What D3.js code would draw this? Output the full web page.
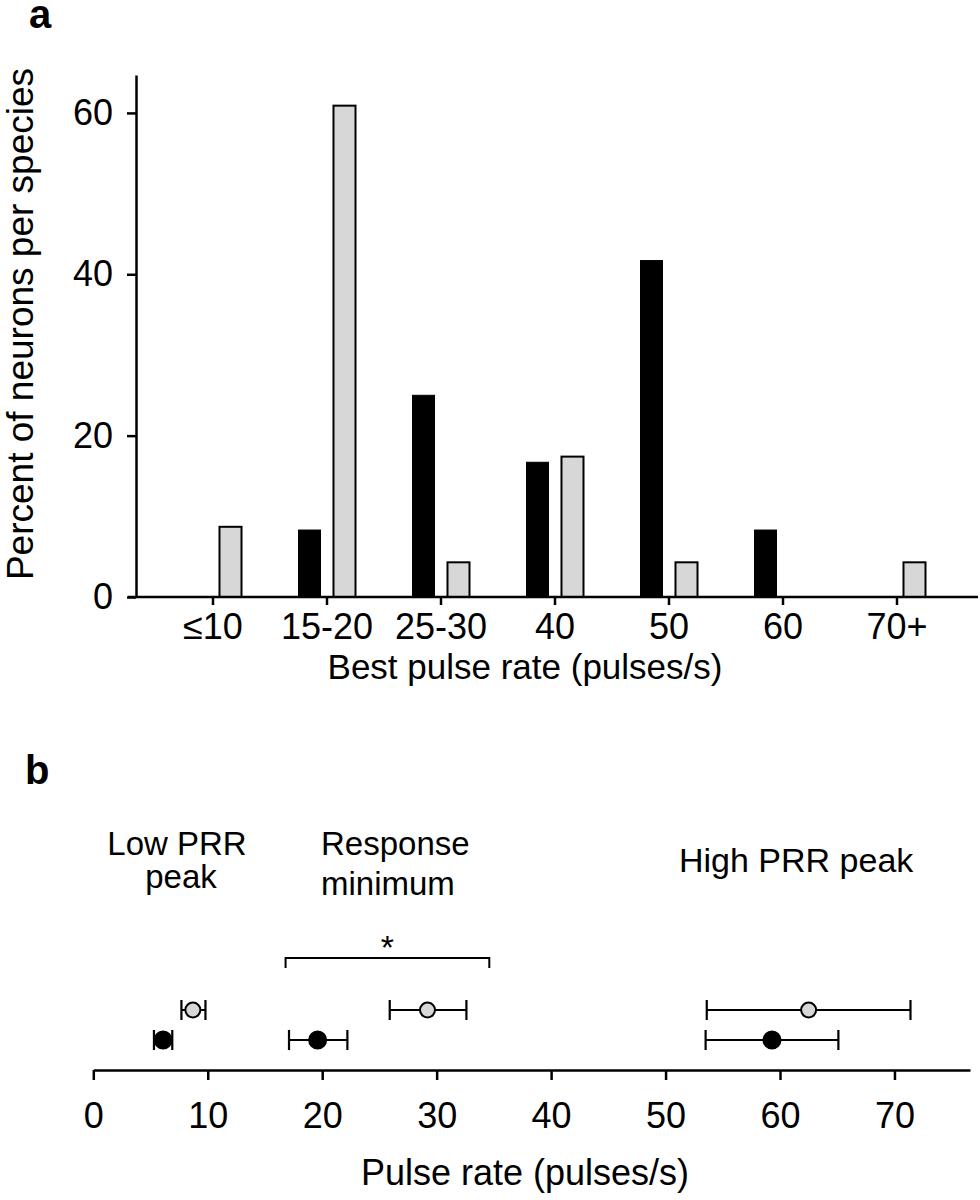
<!DOCTYPE html>
<html>
<head>
<meta charset="utf-8">
<script src="https://cdn.jsdelivr.net/npm/d3@7"></script>
<style>
  html, body { margin: 0; padding: 0; background: #fff; }
  svg { display: block; }
  text { font-family: "Liberation Sans", Arial, sans-serif; fill: #000; }
</style>
</head>
<body>
<svg id="chart" width="980" height="1200"></svg>
<script>
// ---------- Panel a data ----------
const categories = ["≤10", "15-20", "25-30", "40", "50", "60", "70+"];
const blackPct = [0, 8.3, 25.0, 16.7, 41.7, 8.3, 0];
const grayPct = [8.7, 60.9, 4.3, 17.4, 4.3, 0, 4.3];
const yTicksA = [0, 20, 40, 60];
const seriesNames = ["black", "gray"];

// ---------- Panel b data ----------
const groupLabels = ["Low PRR peak", "Response minimum", "High PRR peak"];
const grayMean = [8.7, 29.2, 62.5];
const grayLo = [7.7, 25.9, 53.6];
const grayHi = [9.8, 32.6, 71.4];
const blackMean = [6.1, 19.6, 59.3];
const blackLo = [5.3, 17.1, 53.5];
const blackHi = [6.9, 22.2, 65.1];
const xTicksB = [0, 10, 20, 30, 40, 50, 60, 70];
const sigRange = [16.8, 34.6];

const svg = d3.select("#chart");
const GRAY = "#d6d7d6";

// ================= Panel a =================
const yA = d3.scaleLinear().domain([0, 64.7]).range([597, 75]);
const xA = d3.scaleBand().domain(categories).range([156, 954]).padding(0);
const xSub = d3.scaleBand().domain(seriesNames).range([-28.5, 28.5]).paddingInner(0.371).paddingOuter(0);

svg.append("text").attr("x", 29).attr("y", 28)
  .attr("font-size", 40).attr("font-weight", "bold").text("a");

// y axis
const gyA = svg.append("g").attr("transform", "translate(136,0)")
  .call(d3.axisLeft(yA).tickValues(yTicksA).tickSize(9).tickSizeOuter(0).tickPadding(14));
gyA.select(".domain").attr("stroke-width", 2.5);
gyA.selectAll(".tick line").attr("stroke-width", 2.5);
gyA.selectAll(".tick text").attr("font-size", 36).attr("font-family", "Liberation Sans, Arial, sans-serif");

// x axis
const gxA = svg.append("g").attr("transform", "translate(0,597)")
  .call(d3.axisBottom(xA).tickSize(8).tickPadding(8));
gxA.select(".domain").remove();
gxA.selectAll(".tick line").attr("stroke-width", 2.5);
gxA.selectAll(".tick text").attr("font-size", 36).attr("font-family", "Liberation Sans, Arial, sans-serif");

// bars
const barData = [];
categories.forEach((c, i) => {
  barData.push({ cat: c, s: "black", v: blackPct[i] });
  barData.push({ cat: c, s: "gray", v: grayPct[i] });
});
svg.append("g").selectAll("rect").data(barData.filter(d => d.v > 0)).join("rect")
  .attr("x", d => xA(d.cat) + xA.bandwidth() / 2 + xSub(d.s))
  .attr("width", xSub.bandwidth())
  .attr("y", d => yA(d.v))
  .attr("height", d => yA(0) - yA(d.v))
  .attr("fill", d => d.s === "black" ? "#000" : GRAY)
  .attr("stroke", "#000")
  .attr("stroke-width", d => d.s === "black" ? 1 : 2);

// baseline line (drawn over bars)
svg.append("line").attr("x1", 128).attr("x2", 978).attr("y1", 597).attr("y2", 597)
  .attr("stroke", "#000").attr("stroke-width", 2.5);

// axis titles
svg.append("text").attr("transform", "translate(33,324) rotate(-90)")
  .attr("text-anchor", "middle").attr("font-size", 37).text("Percent of neurons per species");
svg.append("text").attr("x", 525).attr("y", 679)
  .attr("text-anchor", "middle").attr("font-size", 35).text("Best pulse rate (pulses/s)");

// ================= Panel b =================
const xB = d3.scaleLinear().domain([0, 76.6]).range([93.3, 970]);
const rowY = d3.scalePoint().domain(["gray", "black"]).range([1010, 1040]);

svg.append("text").attr("x", 25).attr("y", 784)
  .attr("font-size", 40).attr("font-weight", "bold").text("b");

const gxB = svg.append("g").attr("transform", "translate(0,1070)")
  .call(d3.axisBottom(xB).tickValues(xTicksB).tickSize(10).tickSizeOuter(0).tickPadding(22));
gxB.select(".domain").attr("stroke-width", 2.5);
gxB.selectAll(".tick line").attr("stroke-width", 2.5);
gxB.selectAll(".tick text").attr("font-size", 36).attr("font-family", "Liberation Sans, Arial, sans-serif");

svg.append("text").attr("x", 525).attr("y", 1185)
  .attr("text-anchor", "middle").attr("font-size", 36).text("Pulse rate (pulses/s)");

// group labels
const lbl = svg.append("g").attr("font-size", 33);
lbl.append("text").attr("x", 177).attr("y", 855).attr("text-anchor", "middle").text("Low PRR");
lbl.append("text").attr("x", 181).attr("y", 888).attr("text-anchor", "middle").text("peak");
lbl.append("text").attr("x", 321).attr("y", 855).text("Response");
lbl.append("text").attr("x", 321).attr("y", 895).text("minimum");
lbl.append("text").attr("x", 679).attr("y", 872).attr("font-size", 34).text(groupLabels[2]);

// significance bracket
const sg = svg.append("g").attr("stroke", "#000").attr("stroke-width", 2);
sg.append("path").attr("fill", "none")
  .attr("d", `M${xB(sigRange[0])},968 V958 H${xB(sigRange[1])} V968`);
svg.append("text").attr("x", (xB(sigRange[0]) + xB(sigRange[1])) / 2).attr("y", 959)
  .attr("text-anchor", "middle").attr("font-size", 34).text("*");

// error bars + points
const ptData = [];
groupLabels.forEach((g, i) => {
  ptData.push({ s: "gray", m: grayMean[i], lo: grayLo[i], hi: grayHi[i] });
  ptData.push({ s: "black", m: blackMean[i], lo: blackLo[i], hi: blackHi[i] });
});
const eb = svg.append("g").attr("stroke", "#000").attr("stroke-width", 2.2).attr("fill", "none");
eb.selectAll("path").data(ptData).join("path")
  .attr("d", d => {
    const y = rowY(d.s), a = xB(d.lo), b = xB(d.hi);
    return `M${a},${y - 10}V${y + 10}M${a},${y}H${b}M${b},${y - 10}V${y + 10}`;
  });
svg.append("g").selectAll("circle").data(ptData).join("circle")
  .attr("cx", d => xB(d.m)).attr("cy", d => rowY(d.s))
  .attr("r", d => d.s === "black" ? 8.5 : 7.5)
  .attr("fill", d => d.s === "black" ? "#000" : GRAY)
  .attr("stroke", "#000").attr("stroke-width", 2);
</script>
</body>
</html>
